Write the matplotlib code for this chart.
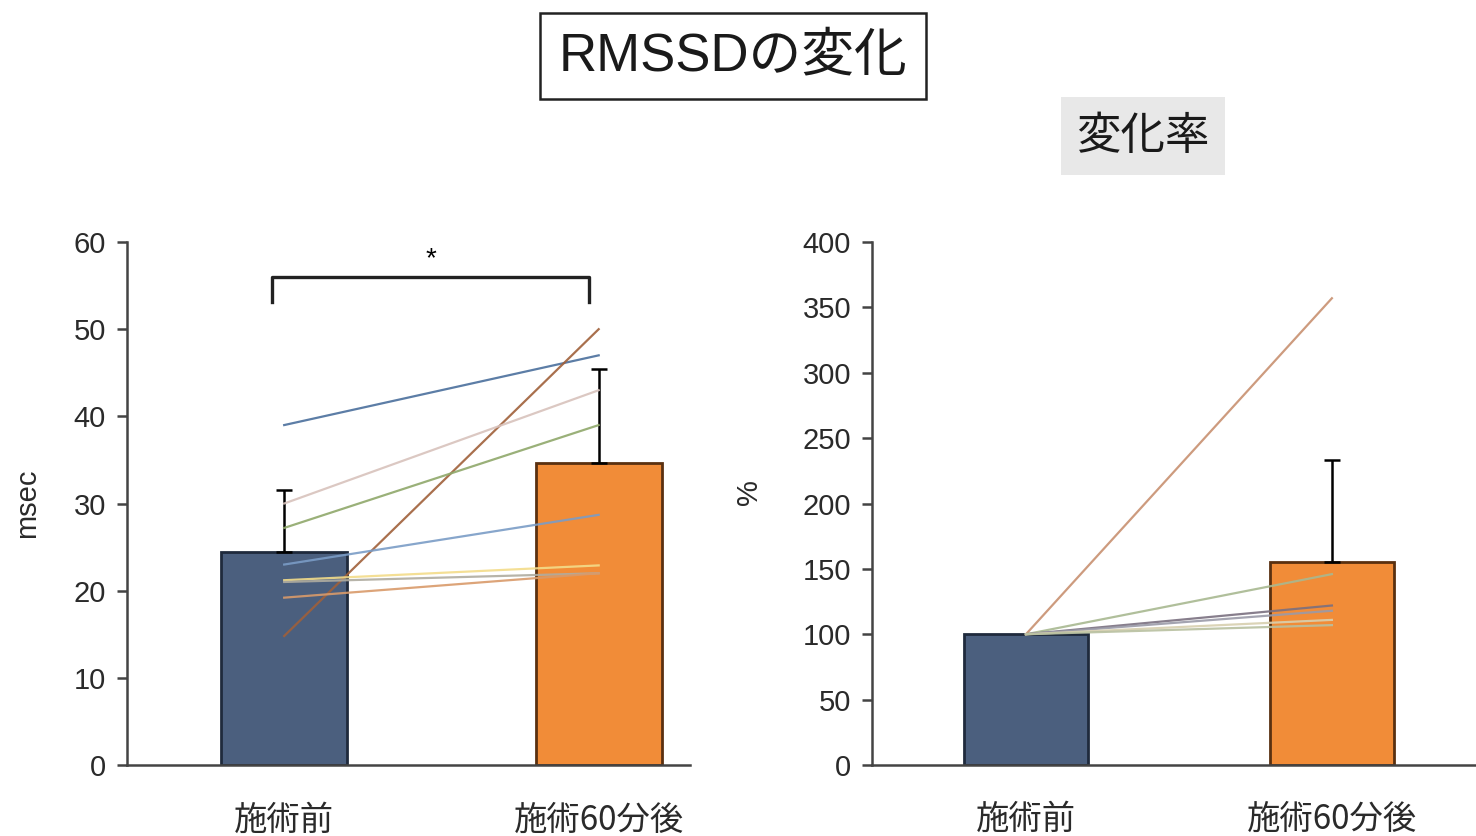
import matplotlib
matplotlib.use('Agg')
import matplotlib.pyplot as plt

plt.rcParams['font.family'] = ['Liberation Sans', 'Noto Sans CJK JP']

groups = ['施術前', '施術60分後']

# RMSSD (msec): group means, SD and individual subjects
rmssd_mean = [24.4, 34.7]
rmssd_sd = [7.1, 10.7]
rmssd_pre = [39.0, 14.8, 30.0, 27.2, 23.0, 21.2, 21.0, 19.2]
rmssd_post = [47.0, 50.0, 43.0, 39.0, 28.7, 22.9, 22.0, 22.0]
subject_colors = ['#4a6f9c', '#a0603a', '#d8c2bc', '#8fa86a',
                  '#7a9cc6', '#f3dc8a', '#b0aca0', '#d99a6a']

# rate of change (%)
rate_mean = [100, 155]
rate_sd = [0, 78]
rate_pre = [100, 100, 100, 100, 100, 100]
rate_post = [357, 146, 122, 118, 111, 107]
rate_colors = ['#c89070', '#a8b890', '#7a7080', '#9a9aa8', '#d8d0b0', '#b8c0a0']

bar_colors = ['#4b5f7e', '#f18c38']
bar_edges = ['#1f2a3c', '#5a3010']
pos = [0, 1]

fig = plt.figure(figsize=(14.76, 8.36), dpi=100)

ax1 = fig.add_axes([0.086, 0.0849, 0.3814, 0.6256])
ax2 = fig.add_axes([0.5908, 0.0849, 0.409, 0.6256])


def style_axes(ax):
    for s in ['top', 'right']:
        ax.spines[s].set_visible(False)
    for s in ['left', 'bottom']:
        ax.spines[s].set_color('#444444')
        ax.spines[s].set_linewidth(1.8)
    ax.tick_params(axis='y', direction='out', length=7, width=1.8,
                   labelsize=21, color='#444444', labelcolor='#2a2a2a', pad=8)
    ax.set_xticks([])


# left panel
ax1.bar(pos, rmssd_mean, width=0.40, color=bar_colors, edgecolor=bar_edges,
        linewidth=2, zorder=2)
ax1.errorbar(pos, rmssd_mean, yerr=[[0, 0], rmssd_sd], fmt='none',
             ecolor='black', elinewidth=1.8, capsize=6, capthick=1.8, zorder=3)
for a, b, c in zip(rmssd_pre, rmssd_post, subject_colors):
    ax1.plot(pos, [a, b], color=c, linewidth=1.6, alpha=0.9, zorder=4)
ax1.set_xlim(-0.5, 1.29)
ax1.set_ylim(0, 60)
ax1.set_yticks(range(0, 61, 10))
style_axes(ax1)
ax1.set_ylabel('msec', fontsize=21, color='#2a2a2a')
ax1.yaxis.set_label_coords(-0.153, 0.50)
for x, g in zip(pos, groups):
    ax1.text(x, -4.3, g, ha='center', va='top', fontsize=24,
             color='#2a2a2a', family=['Noto Sans CJK JP'])

# significance bracket
ax1.plot([-0.04, -0.04, 0.97, 0.97], [53.1, 56.0, 56.0, 53.1],
         color='#222222', linewidth=2.4, clip_on=False, zorder=5)
ax1.text(0.465, 58.0, '*', ha='center', va='center', fontsize=20)

# right panel
ax2.bar(pos, rate_mean, width=0.405, color=bar_colors, edgecolor=bar_edges,
        linewidth=2, zorder=2)
ax2.errorbar(pos[1:], rate_mean[1:], yerr=[[0], rate_sd[1:]], fmt='none',
             ecolor='black', elinewidth=1.8, capsize=6, capthick=1.8, zorder=3)
for a, b, c in zip(rate_pre, rate_post, rate_colors):
    ax2.plot(pos, [a, b], color=c, linewidth=1.6, alpha=0.9, zorder=4)
ax2.set_xlim(-0.503, 1.47)
ax2.set_ylim(0, 400)
ax2.set_yticks(range(0, 401, 50))
style_axes(ax2)
ax2.set_ylabel('%', fontsize=21, color='#2a2a2a')
ax2.yaxis.set_label_coords(-0.180, 0.522)
for x, g in zip(pos, groups):
    ax2.text(x, -28.5, g, ha='center', va='top', fontsize=24,
             color='#2a2a2a', family=['Noto Sans CJK JP'])

# headings
fig.text(733 / 1476, 1 - 56 / 836, 'RMSSDの変化', ha='center', va='center',
         fontsize=38, color='#1a1a1a',
         bbox=dict(boxstyle='square,pad=0.35', facecolor='white',
                   edgecolor='#222222', linewidth=1.8))
fig.text(1143 / 1476, 1 - 136 / 836, '変化率', ha='center', va='center',
         fontsize=32, color='#1a1a1a', family=['Noto Sans CJK JP'],
         bbox=dict(boxstyle='square,pad=0.35', facecolor='#e8e8e8',
                   edgecolor='none'))

fig.savefig('out.png', dpi=100)
